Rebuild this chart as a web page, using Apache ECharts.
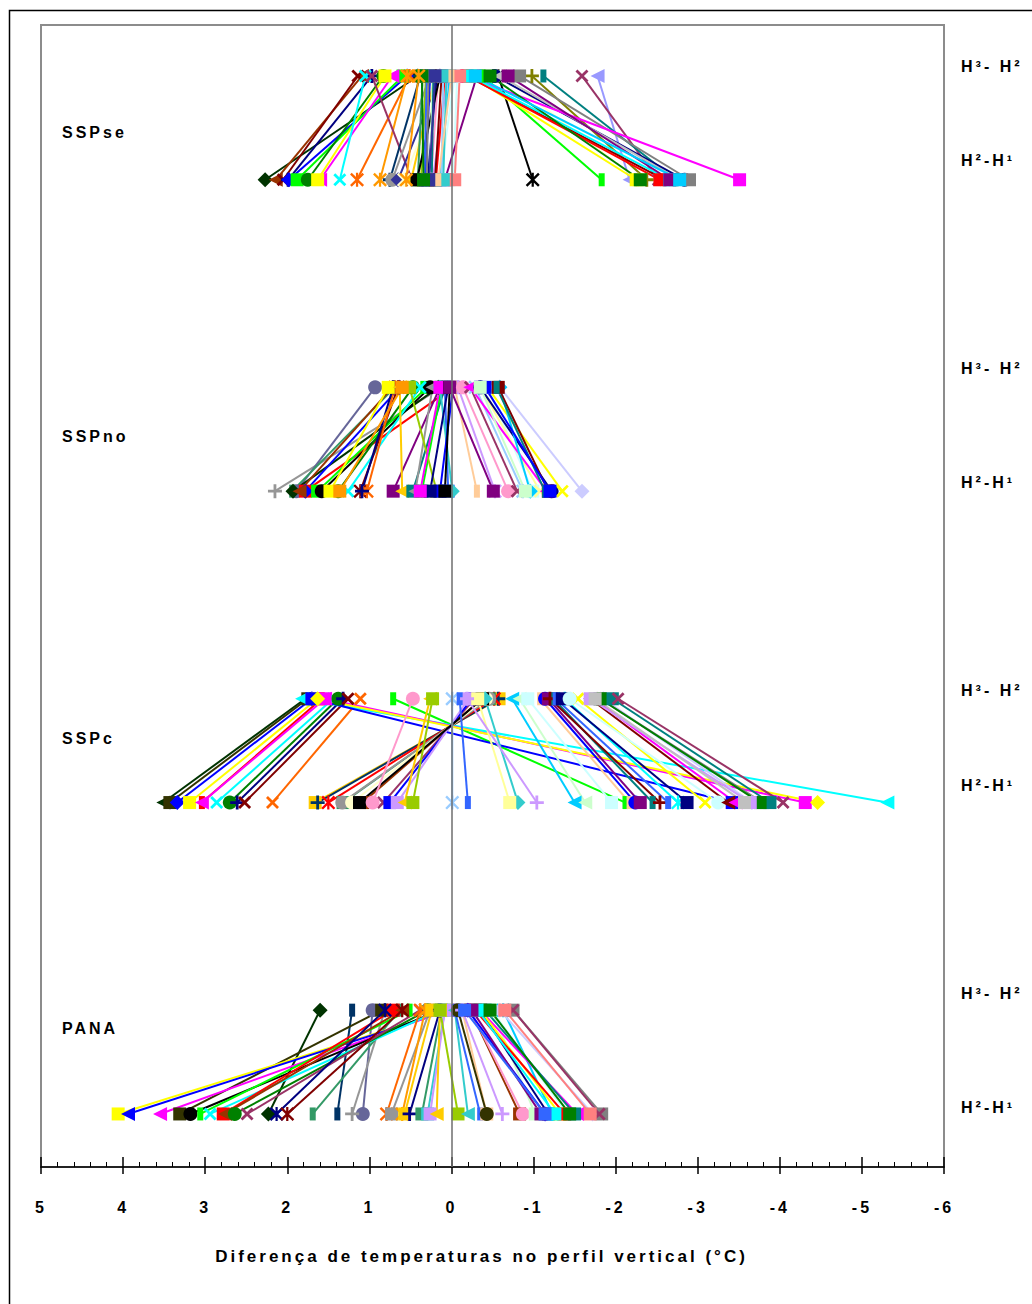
<!DOCTYPE html>
<html>
<head>
<meta charset="utf-8">
<script src="https://cdn.jsdelivr.net/npm/echarts@6/dist/echarts.min.js"></script>
<style>
html,body{margin:0;padding:0;background:#fff;}
#chart{width:1032px;height:1304px;}
#chart text{letter-spacing:3px;}
</style>
</head>
<body>
<div id="chart"></div>
<script>
// ---------- data ----------
const groupNames = ['SSPse', 'SSPno', 'SSPc', 'PANA'];
const levelNames = ['H³- H²', 'H²-H¹'];
const axisTitle = 'Diferença de temperaturas no perfil vertical (°C)';
const xMin = -6, xMax = 5, xStep = 1;

// SSPse : value at H3-H2 level (top) and at H2-H1 level (bottom)
const sspseTop = [0.41,1.09,1.14,0.97,0.54,0.59,0.83,0.72,0.81,1.05,0.51,0.54,0.97,0.38,0.26,0.14,0.08,0.20,0.31,0.35,0.16,0.04,-0.04,-0.07,-0.31,0.26,0.08,0.18,0.02,0.14,0.23,-0.57,-0.38,-1.78,-0.63,-0.98,-1.59,-0.19,-1.12,-0.53,-0.59,-0.83,-0.18,-0.23,-0.19,-0.23,-0.47,-0.69,-0.29,-0.10,0.30,0.22,0.12,0.10,0.28,0.06,0.20,0.00,0.36,0.40];
const sspseBottom = [2.27,2.14,2.05,1.99,1.98,1.88,1.75,1.60,1.63,1.36,1.15,0.87,0.48,0.75,0.72,0.65,0.58,0.49,0.37,0.41,0.25,0.23,0.14,-0.02,0.08,0.32,0.19,0.29,0.14,0.42,0.26,-0.99,-1.83,-2.17,-2.27,-2.38,-2.52,-2.60,-2.73,-2.84,-2.78,-2.90,-3.51,-2.25,-2.54,-2.66,-2.30,-2.66,-2.78,-0.04,0.33,0.24,0.20,0.12,0.30,0.10,0.27,0.16,0.34,0.55];

// SSPno
const sspnoTop = [0.12,0.93,0.69,0.16,-0.02,0.63,0.72,0.30,0.26,0.47,0.38,0.65,0.69,0.71,0.77,0.14,0.63,0.08,0.23,0.12,0.51,0.08,0.14,-0.02,0.04,0.14,0.02,-0.04,-0.08,0.02,-0.14,-0.23,-0.29,-0.44,-0.35,-0.23,-0.35,-0.44,-0.59,-0.59,-0.57,-0.55,-0.41,-0.35,0.60];
const sspnoBottom = [2.15,1.89,1.94,1.93,1.78,1.78,1.85,1.63,1.58,1.38,1.26,1.11,1.03,1.09,1.48,0.71,0.60,0.47,0.44,0.36,0.18,0.04,-0.01,0.14,0.26,0.38,0.08,-0.31,-0.53,-0.51,-0.69,-0.80,-0.87,-0.99,-1.08,-1.16,-1.22,-1.35,-1.59,-0.96,-1.18,-1.14,-1.20,-0.90,1.36];

// SSPc
const sspcTop = [1.78,1.75,1.70,1.63,1.58,1.54,1.44,1.38,1.32,1.26,1.11,0.71,1.82,1.70,1.54,1.63,-0.58,-0.57,-0.52,-0.46,-0.46,-0.42,-0.37,-0.28,-0.25,-0.21,-0.38,0.47,0.26,0.23,-0.01,-0.10,-0.41,-0.32,-0.19,-0.74,-0.83,-0.93,-1.08,-1.14,-1.18,-1.24,-1.20,-1.27,-1.38,-1.35,-1.54,-1.44,-1.69,-1.73,-1.85,-1.81,-1.96,-2.03,-1.81,-1.69,-1.75];
const sspcBottom = [3.51,3.43,3.34,3.19,3.04,3.04,2.86,2.70,2.61,2.52,2.18,-2.12,-5.31,-3.42,-4.31,-4.46,1.66,1.63,1.50,1.32,1.33,1.21,1.08,0.83,0.75,0.66,1.12,0.96,0.57,0.47,-0.01,-0.20,-0.81,-0.71,-1.04,-1.50,-1.63,-1.95,-2.17,-2.24,-2.30,-2.45,-2.54,-2.64,-2.76,-2.87,-3.09,-3.25,-3.37,-3.46,-3.66,-3.79,-3.88,-4.04,-3.76,-3.64,-3.57];

// PANA
const panaTop = [1.60,1.21,0.96,0.81,0.63,0.85,0.02,0.02,0.05,0.14,0.51,0.14,0.71,0.60,0.29,0.38,0.81,0.60,0.38,0.26,0.32,0.24,0.14,0.12,0.08,0.08,0.14,0.14,-0.04,-0.04,-0.13,-0.08,-0.13,-0.23,-0.23,-0.49,-0.35,-0.63,-0.49,-0.35,-0.59,-0.75,-0.75,-0.20,-0.35,-0.29,-0.41,-0.65,-0.32,-0.47,-0.25,-0.16];
const panaBottom = [2.23,1.39,1.08,1.21,1.69,3.31,4.06,3.94,3.55,3.18,3.06,2.94,2.78,2.76,2.64,2.49,2.13,2.00,0.79,0.73,0.60,0.57,0.51,0.36,0.29,0.26,0.18,-0.08,-0.20,-0.35,-0.43,-0.43,-0.62,-0.83,-0.87,-1.02,-1.18,-1.23,-1.41,-1.53,-1.72,-1.83,-1.80,-1.14,-1.32,-1.38,-1.50,-1.69,-1.26,-1.44,-1.09,-1.14];

// ---------- styles (kept apart from values) ----------
const sspseColor = ['dgreen','brown','darkred','navy','blue','green','green2','magenta','yellow','cyan','orange2','orange','plum','dteal','gray','indigo','ivory','gold','lime','sea','pink','lav','lcyan','lcyan','purple','blue','red','navy','sky','black','lgreen','black','green','peri','ivory','olive2','plum','darkred','teal','navy','silver','gray50','magenta','yellow','red','cyan','green2','purple','sky','coral','royal','teal','darkred','pblue','gray50','aqua','indigo','tan','green2','orange'];
const sspseMarker = ['di','tr','x','pl','di','sq','ci','tr','sq','x','as','as','x','pl','ci','di','as','tr','sq','sq','ci','pl','sq','ci','sq','sq','sq','sq','sq','sq','sq','as','nr','tr','as','pl','x','x','nr','ci','tr','sq','sq','sq','sq','sq','sq','sq','sq','sq','nr','sq','sq','sq','sq','sq','sq','nr','sq','as'];
const sspnoColor = ['gray','bluegray','sea','dgreen','red','blue','brown','green','black','green2','cyan','darkred','orange2','navy','yellow','purple','gold','teal','gray','green','lime','royal','aqua','blue','navy','magenta','black','tan','lav','purple','pink','plum','pblue','lcyan','lyellow','magenta','navy','yellow','ice','sky','darkred','teal','blue','lgreen','orange'];
const sspnoMarker = ['pl','ci','nr','di','sq','di','tr','sq','ci','ci','x','as','as','pl','sq','sq','tr','sq','tr','sq','sq','sq','di','sq','sq','sq','sq','nr','as','sq','ci','x','as','sq','x','tr','ci','x','di','di','sq','nr','sq','sq','sq'];
const sspcColor = ['dgreen','olive','blue','yellow','red','magenta','cyan','green2','navy','darkred','orange2','green','cyan','blue','magenta','yellow','gold','dteal','red','sea','gray','ivory','brown','plum','blue','lav','black','pink','gold','lime','pblue','royal','aqua','lyellow','lav','sky','lgreen','lcyan','tan','blue','purple','teal','darkred','royal','cyan','navy','yellow','lcyan','darkred','magenta','ice','gray50','teal','plum','green2','lav','silver'];
const sspcMarker = ['tr','sq','di','sq','nr','tr','x','ci','pl','x','x','nr','tr','sq','sq','di','sq','pl','as','sq','ci','ci','sq','x','sq','sq','sq','ci','tr','sq','as','nr','di','sq','pl','tr','tr','sq','nr','ci','sq','nr','pl','nr','as','sq','x','ci','tr','tr','di','sq','sq','x','sq','sq','sq'];
const panaColor = ['dgreen','dteal','bluegray','gray','sea','olive','yellow','blue','magenta','black','green','cyan','red','brown','green2','plum','navy','darkred','orange2','gray','orange','gold','navy','sea','aqua','lav','gold','lime','aqua','royal','tan','olive','lav','brown','pink','lgreen','navy','sky','lcyan','magenta','ice','gray50','plum','blue','yellow','red','teal','coral','cyan','green2','purple','royal'];
const panaMarker = ['di','nr','ci','pl','nr','sq','sq','tr','tr','ci','nr','x','sq','tr','ci','x','as','as','as','sq','as','sq','pl','sq','sq','sq','tr','sq','tr','nr','sq','ci','pl','sq','ci','sq','sq','as','ci','tr','di','sq','x','di','sq','sq','sq','sq','sq','sq','sq','sq'];

const PALETTE = {
  navy:'#000080', magenta:'#FF00FF', yellow:'#FFFF00', cyan:'#00FFFF', purple:'#800080',
  darkred:'#800000', teal:'#008080', blue:'#0000FF', sky:'#00CCFF', lcyan:'#CCFFFF',
  lgreen:'#CCFFCC', lyellow:'#FFFF99', pblue:'#99CCFF', pink:'#FF99CC', lav:'#CC99FF',
  tan:'#FFCC99', royal:'#3366FF', aqua:'#33CCCC', lime:'#99CC00', gold:'#FFCC00',
  orange:'#FF9900', orange2:'#FF6600', bluegray:'#666699', gray:'#969696', dteal:'#003366',
  sea:'#339966', dgreen:'#003300', olive:'#333300', brown:'#993300', plum:'#993366',
  indigo:'#333399', black:'#000000', red:'#FF0000', green:'#00FF00', green2:'#008000',
  gray50:'#808080', olive2:'#808000', peri:'#9999FF', ivory:'#FFFFCC', ice:'#CCCCFF',
  silver:'#C0C0C0', coral:'#FF8080'
};
const MARKERS = {
  sq: {symbol:'rect', size:13},
  nr: {symbol:'rect', size:[6,13]},
  di: {symbol:'diamond', size:15},
  ci: {symbol:'circle', size:14},
  tr: {symbol:'path://M0,5L10,0L10,10Z', size:14},
  x:  {symbol:'path://M1.5,0L5,3.5L8.5,0L10,1.5L6.5,5L10,8.5L8.5,10L5,6.5L1.5,10L0,8.5L3.5,5L0,1.5Z', size:13},
  as: {symbol:'path://M1.2,0L5,3.8L8.8,0L10,1.2L6.2,5L10,8.8L8.8,10L5,6.2L1.2,10L0,8.8L3.8,5L0,1.2Z M4.2,0H5.8V10H4.2Z', size:14},
  pl: {symbol:'path://M4,0H6V4H10V6H6V10H4V6H0V4H4Z', size:14}
};

// ---------- layout ----------
const FONT = '"Liberation Sans", Arial, sans-serif';
const GROUP_STEP = 3;           // vertical distance between groups in level units
const groupLabelY = [132, 436, 738, 1028];
const levelLabelY = [[66,160],[368,482],[690,785],[993,1107]];

const groups = [
  {top: sspseTop, bottom: sspseBottom, color: sspseColor, marker: sspseMarker},
  {top: sspnoTop, bottom: sspnoBottom, color: sspnoColor, marker: sspnoMarker},
  {top: sspcTop,  bottom: sspcBottom,  color: sspcColor,  marker: sspcMarker},
  {top: panaTop,  bottom: panaBottom,  color: panaColor,  marker: panaMarker}
];

const series = [];
groups.forEach((g, gi) => {
  const yTop = gi * GROUP_STEP, yBottom = gi * GROUP_STEP + 1;
  g.top.forEach((t, i) => {
    const col = PALETTE[g.color[i]];
    const mk = MARKERS[g.marker[i]];
    series.push({
      type: 'line',
      name: groupNames[gi] + ' ' + (i + 1),
      data: [[t, yTop], [g.bottom[i], yBottom]],
      symbol: mk.symbol,
      symbolSize: mk.size,
      showSymbol: true,
      lineStyle: {color: col, width: 2},
      itemStyle: {color: col, borderWidth: 0},
      emphasis: {disabled: true},
      silent: true,
      animation: false,
      z: 2
    });
  });
});
// zero line
series.push({
  type: 'line', data: [], silent: true, animation: false,
  markLine: {
    silent: true, symbol: 'none', animation: false,
    label: {show: false},
    lineStyle: {color: '#6e6e6e', width: 1.5, type: 'solid'},
    data: [{xAxis: 0}]
  },
  z: 10
});

const graphics = [
  {type:'rect', z:-10, shape:{x:9.5, y:10.5, width:1200, height:1400}, style:{fill:'none', stroke:'#000', lineWidth:1.5}}
];
groupNames.forEach((n, gi) => {
  graphics.push({type:'text', x:62, y:groupLabelY[gi],
    style:{text:n, font:'bold 16px ' + FONT, fill:'#000', align:'left', verticalAlign:'middle', textAlign:'left', textVerticalAlign:'middle'}});
  levelNames.forEach((ln, li) => {
    graphics.push({type:'text', x:961, y:levelLabelY[gi][li],
      style:{text:ln, font:'bold 16px ' + FONT, fill:'#000', align:'left', verticalAlign:'middle', textAlign:'left', textVerticalAlign:'middle'}});
  });
});

const chart = echarts.init(document.getElementById('chart'), null, {renderer:'svg', width:1032, height:1304});
chart.setOption({
  backgroundColor: '#fff',
  animation: false,
  grid: {left:41, right:88, top:25, bottom:137, show:true, borderColor:'#8c8c8c', borderWidth:2, backgroundColor:'transparent', containLabel:false},
  xAxis: [
    {
      type:'value', min:xMin, max:xMax, interval:xStep, inverse:true, position:'bottom',
      axisLine:{show:true, onZero:false, lineStyle:{color:'#000', width:1.5}},
      axisTick:{show:true, inside:false, length:7, lineStyle:{color:'#000', width:1.5}},
      minorTick:{show:false},
      splitLine:{show:false},
      axisLabel:{margin:32, color:'#000', fontSize:16, fontWeight:'bold', fontFamily:FONT},
      name: axisTitle, nameLocation:'middle', nameGap:81,
      nameTextStyle:{color:'#000', fontSize:17, fontWeight:'bold', fontFamily:FONT, padding:[0,22,0,0]}
    },
    {
      type:'value', min:xMin, max:xMax, interval:xStep, inverse:true, position:'bottom',
      axisLine:{show:false, onZero:false},
      axisTick:{show:true, inside:true, length:10, lineStyle:{color:'#000', width:1.5}},
      minorTick:{show:true, splitNumber:5, length:5, lineStyle:{color:'#000', width:1}},
      splitLine:{show:false},
      axisLabel:{show:false}
    }
  ],
  yAxis: {type:'value', min:-0.491, max:10.511, inverse:true, show:false},
  graphic: graphics,
  series: series
});
</script>
</body>
</html>
